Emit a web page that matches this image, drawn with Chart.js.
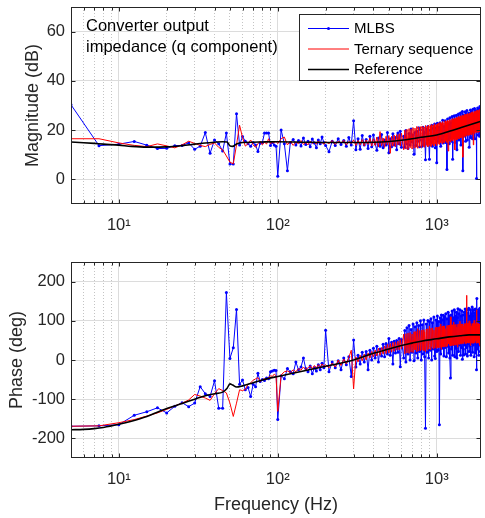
<!DOCTYPE html>
<html><head><meta charset="utf-8">
<script src="https://cdn.jsdelivr.net/npm/chart.js@4"></script>
<style>
html,body{margin:0;padding:0;background:#fff;}
#wrap{position:relative;width:485px;height:518px;overflow:hidden;}
canvas{position:absolute;left:0;}
</style></head><body>
<div id="wrap">
<canvas id="c1" width="485" height="250" style="top:0px;width:485px;height:250px"></canvas>
<canvas id="c2" width="485" height="268" style="top:250px;width:485px;height:268px"></canvas>
</div>
<script>
// ---------- data ----------
const freq = [5,7.5,10,12.5,15,17.5,20,22.5,25,27.5,30,32.5,35,37.5,40,42.5,45,47.5,50,52.5,55,57.5,60,62.5,65,67.5,70,72.5,75,77.5,80,82.5,85,87.5,90,92.5,95,97.5,100,
105,110,115,120,125,130,135,140,145,150,155,160,165,170,175,180,185,190,195,200,
210,220,230,240,250,260,270,280,290,300,310,320,330,340,350,360,370,380,390,400,410,420,430,440,450,460,470,480,490,500,510,520,530,540,550,560,570,580,590,600,
620,630,640,650,660,670,680,690,700,710,
720,730,740,750,760,770,780,790,800,810,
820,830,840,850,860,870,880,890,900,910,
920,930,940,950,960,970,980,990,1000,1010,
1020,1030,1040,1050,1060,1070,1080,1090,1100,1110,
1120,1130,1140,1150,1160,1170,1180,1190,1200,1210,
1220,1230,1240,1250,1260,1270,1280,1290,1300,1310,
1320,1330,1340,1350,1360,1370,1380,1390,1400,1410,
1420,1430,1440,1450,1460,1470,1480,1490,1500,1510,
1520,1530,1540,1550,1560,1570,1580,1590,1600,1610,
1620,1630,1640,1650,1660,1670,1680,1690,1700,1710,
1720,1730,1740,1750,1760,1770,1780,1790,1800,1810,
1820,1830,1840,1850,1860,1870,1880,1890,1900];

const magMLBS = [30.3,13.7,14.3,15.4,13.9,12.5,12.6,13.7,13.8,14.8,12.2,13.5,19.0,10.6,16.0,14.5,11.5,18.8,6.2,6.2,26.7,14.0,17.4,15.5,14.5,13.5,15.0,14.0,11.3,14.7,15.0,18.8,18.8,18.8,13.8,15.0,14.0,13.5,1.3,
20.1,14.5,3.5,15.0,16.2,14.0,15.8,13.6,16.8,14.2,15.5,13.2,16.4,14.8,12.8,16.0,14.5,17.2,15.0,13.8,
11.2,15.5,13.8,16.5,14.2,15.8,13.5,17.0,14.0,23.8,12.0,16.5,12.2,17.8,14.0,16.2,12.5,17.5,13.2,18.0,14.5,11.8,16.8,13.5,18.2,12.8,16.0,14.0,19.0,10.8,16.5,13.2,18.5,14.0,17.0,12.0,18.8,14.5,19.5,13.0,
17.5,13.0,19.8,14.5,12.5,18.6,14.0,20.5,15.2,18.0,
10.2,19.0,13.8,19.5,15.5,21.0,13.2,20.2,16.0,13.5,
21.2,14.2,19.0,8.0,20.5,14.8,21.5,16.0,8.2,20.0,
15.0,22.0,13.5,20.8,16.5,22.5,12.8,21.0,6.8,22.8,
15.5,21.2,17.0,23.0,13.5,22.2,16.0,24.0,14.8,21.5,
17.5,23.8,15.0,22.0,4.0,24.5,16.2,22.5,14.5,25.0,
17.0,23.0,15.5,25.5,8.2,24.0,17.5,25.8,15.0,23.5,
18.0,26.0,12.0,24.5,17.0,26.5,16.0,24.0,19.0,27.0,
14.0,25.0,18.0,27.6,3.5,26.0,17.5,25.5,19.5,27.5,
15.5,26.0,18.5,28.0,16.0,25.5,20.0,27.0,13.0,26.5,
19.0,28.2,17.0,25.0,20.5,27.5,16.5,28.5,19.0,26.0,
21.0,28.8,16.5,27.0,20.0,28.0,0.4,27.5,19.5,29.0,
18.0,27.0,21.0,28.5,17.5,29.6,20.5,27.5,22.0];

const magTern = [16.5,16.5,14.8,13.8,13.3,14.4,13.6,12.8,14.0,15.5,14.6,13.8,13.3,14.2,14.8,13.0,12.0,9.5,7.0,6.3,14.0,22.0,17.0,13.5,14.5,16.0,14.0,13.0,14.5,15.5,14.0,15.2,14.3,16.5,14.5,15.0,14.8,15.5,14.5,
16.5,17.2,14.0,15.5,13.8,15.2,14.5,15.8,14.2,15.0,14.0,15.5,14.6,15.2,14.3,15.6,14.8,15.0,14.2,15.3,
14.5,15.8,14.2,15.5,14.8,15.9,14.0,15.4,14.6,16.0,13.8,15.8,14.0,16.2,13.6,16.0,14.2,16.8,13.5,16.5,13.8,17.2,13.2,19.4,13.6,16.8,13.0,17.5,14.0,17.8,10.6,17.5,13.5,18.0,13.2,18.2,14.0,18.5,13.5,18.8,
12.0,20.0,12.3,20.3,12.0,20.6,12.8,20.5,12.3,21.0,
12.8,20.8,13.0,21.5,12.6,21.2,13.4,21.4,12.9,21.6,
13.5,21.3,13.0,21.9,13.8,21.5,13.2,22.0,13.8,21.8,
13.4,22.3,14.2,22.0,13.6,22.6,14.3,22.2,13.8,22.6,
14.5,22.9,14.1,23.2,14.9,22.8,14.5,23.5,15.1,23.0,
14.8,23.8,15.5,23.4,15.0,24.0,11.5,23.8,15.6,24.3,
15.2,24.0,16.0,24.6,15.6,24.2,16.3,24.9,12.0,24.5,
16.5,25.2,16.0,24.8,16.9,25.5,16.5,25.1,17.2,25.8,
16.8,25.4,17.5,26.0,9.0,25.7,17.6,26.3,17.2,25.9,
17.9,26.5,17.5,26.2,18.2,26.8,17.8,26.4,18.4,27.0,
18.0,26.7,18.6,27.2,18.2,26.9,18.9,27.5,14.0,27.1,
19.0,27.7,18.7,27.3,19.3,27.9,18.9,27.5,19.5,28.1,
19.1,27.8,19.7,28.3,19.3,28.0,19.9,28.5,19.6];

const phMLBS = [-169,-168,-165,-141,-132,-122,-135,-118,-109,-119,-110,-68,-86,-93,-53,-123,-123,172,4,31,129,-62,-51,-76,-70,-93,-62,-68,-34,-55,-50,-52,-46,-48,-30,-28,-26,-27,-152,
-40,-48,-22,-30,-35,-5,-25,-18,5,-22,-30,-15,-35,-20,-28,-12,-25,-8,-20,76,
-30,-5,-20,-2,-25,5,-12,8,-42,51,-18,12,-10,20,-5,22,-25,25,0,30,5,35,-5,28,10,40,8,42,15,55,12,45,-10,48,18,50,20,55,-17,52,
5,75,-5,82,15,88,0,78,20,92,
-2,85,18,95,5,88,22,100,0,90,
15,102,8,-174,92,20,101,5,98,25,
105,0,95,28,110,10,4,102,22,112,
25,98,-165,108,15,115,30,102,114,10,
110,32,118,8,105,35,122,18,112,5,
-46,115,28,125,12,108,40,128,8,112,
30,122,5,108,131,22,118,38,128,12,
112,32,125,2,115,28,13,122,38,130,
15,115,32,128,10,120,40,132,22,112,
35,128,12,118,42,135,20,112,38,128,
8,120,45,130,18,115,-25,157,28,122,
40,128,12,118,38,132,22,125,42];

const phTern = [-169,-168,-160,-152,-143,-135,-126,-117,-110,-102,-88,-92,-97,-103,-86,-73,-78,-84,-110,-144,-110,-76,-78,-75,-62,-58,-52,-48,-45,-55,-50,-48,-50,-45,-40,-42,-36,-40,-131,
-38,-30,-28,-32,-25,-30,-22,-26,-18,-24,-20,-15,-22,-14,-20,-12,-18,-10,-16,-12,
-20,-8,-18,0,-14,2,-10,6,25,-74,8,-5,12,-2,15,0,18,5,22,8,25,10,30,12,32,15,36,16,40,18,42,20,45,22,46,25,48,26,52,28,
66,16,67,18,69,17,70,20,66,19,
72,26,73,21,80,23,75,23,76,25,
77,24,72,21,79,26,80,28,86,27,
81,34,82,29,76,31,83,30,84,32,
84,31,85,33,92,27,86,34,87,33,
87,35,80,34,88,36,88,41,89,37,
110,36,89,38,90,37,97,39,90,38,
91,40,84,33,91,41,92,40,99,42,
92,41,92,43,92,42,87,47,93,42,
93,43,165,43,93,44,93,43,100,44,
93,37,93,44,87,43,93,44,93,43,
101,44,93,49,93,44,128,43,93,44,
93,43,88,44,92,37,92,44,92];

const refFreq = [5,6,7,8,10,12,15,20,25,30,35,40,45,48,50,52,55,60,70,80,100,150,200,300,400,500,600,700,800,1000,1200,1400,1600,1900];
const refMag = [15.2,14.9,14.6,14.3,13.9,13.4,13.1,13.2,13.7,14.3,14.8,15.1,15.3,15.2,13.6,13.4,14.4,15.0,15.1,15.2,15.3,15.1,15.0,15.0,15.1,15.4,15.9,16.5,17.1,18.0,19.5,20.9,22.1,23.6];
const refPhase = [-178,-177,-175,-172,-164,-156,-144,-124,-111,-100,-91,-86,-82,-72,-61,-64,-69,-66,-58,-51,-42,-27,-16,0,17,28,37,43,48,54,59,62,64,64];

const xMajorTicks = [10, 100, 1000];
const xTickLabels = ['10\u00B9', '10\u00B2', '10\u00B3'];
const xMinorTicks = [5,6,7,8,9,20,30,40,50,60,70,80,90,200,300,400,500,600,700,800,900];
const magTicks = [0, 20, 40, 60];
const phaseTicks = [-200, -100, 0, 100, 200];
const seriesNames = ['MLBS', 'Ternary sequence', 'Reference'];
const noteLines = ['Converter output', 'impedance (q component)'];

// ---------- styling ----------
const FONT = "'Liberation Sans', Arial, Helvetica, sans-serif";
Chart.defaults.font.family = FONT;
Chart.defaults.color = '#262626';
const AX = '#262626';
const GRID = '#dcdcdc';
const MINOR = '#c4c4c4';

function series(xs, ys) { return xs.map((x, i) => ({ x: x, y: ys[i] })); }

function makeDatasets(mlbs, tern, ref) {
  return [
    { label: seriesNames[0], data: series(freq, mlbs), borderColor: '#0000ff', backgroundColor: '#0000ff',
      borderWidth: 1, pointRadius: 1.5, pointBorderWidth: 0, pointBackgroundColor: '#0000ff', order: 2 },
    { label: seriesNames[1], data: series(freq, tern), borderColor: '#ff0000', backgroundColor: '#ff0000',
      borderWidth: 1, pointRadius: 0, order: 1 },
    { label: seriesNames[2], data: series(refFreq, ref), borderColor: '#000000', backgroundColor: '#000000',
      borderWidth: 1.6, pointRadius: 0, cubicInterpolationMode: 'monotone', order: 0 }
  ];
}

const boxPlugin = {
  id: 'matlabBox',
  afterDatasetsDraw(chart) {
    const { ctx, chartArea: a, scales } = chart;
    const L = Math.round(a.left) + 0.5, R = Math.round(a.right) - 0.5;
    const T = Math.round(a.top) + 0.5, B = Math.round(a.bottom) - 0.5;
    ctx.save();
    ctx.strokeStyle = AX; ctx.lineWidth = 1;
    ctx.beginPath();
    const xt = (s, len) => s.ticks.forEach(t => {
      const p = Math.round(s.getPixelForValue(t.value)) + 0.5;
      ctx.moveTo(p, B); ctx.lineTo(p, B - len); ctx.moveTo(p, T); ctx.lineTo(p, T + len);
    });
    xt(scales.x, 4); xt(scales.xm, 3);
    scales.y.ticks.forEach(t => {
      const p = Math.round(scales.y.getPixelForValue(t.value)) + 0.5;
      ctx.moveTo(L, p); ctx.lineTo(L + 4, p); ctx.moveTo(R, p); ctx.lineTo(R - 4, p);
    });
    ctx.stroke();
    ctx.strokeRect(L, T, R - L, B - T);
    ctx.restore();
  }
};

const notePlugin = {
  id: 'note',
  afterDatasetsDraw(chart) {
    const ctx = chart.ctx;
    ctx.save();
    ctx.font = '16.5px ' + FONT;
    ctx.fillStyle = '#000';
    ctx.textBaseline = 'middle';
    ctx.textAlign = 'left';
    ctx.fillText(noteLines[0], 86, 26.5);
    ctx.fillText(noteLines[1], 86, 47.5);
    ctx.restore();
  }
};

const legendPlugin = {
  id: 'legendBox',
  afterDraw(chart) {
    const ctx = chart.ctx;
    const bx = 299.5, by = 14.5, bw = 181, bh = 66;
    ctx.save();
    ctx.fillStyle = '#fff'; ctx.fillRect(bx, by, bw, bh);
    ctx.strokeStyle = AX; ctx.lineWidth = 1; ctx.strokeRect(bx, by, bw, bh);
    const rows = [28.5, 49, 69.5];
    ctx.font = '15px ' + FONT;
    ctx.textBaseline = 'middle'; ctx.textAlign = 'left';
    chart.data.datasets.forEach((ds, i) => {
      const yy = rows[i];
      ctx.strokeStyle = ds.borderColor; ctx.lineWidth = ds.borderWidth;
      ctx.beginPath(); ctx.moveTo(308, yy); ctx.lineTo(349, yy); ctx.stroke();
      if (ds.pointRadius > 0) {
        ctx.fillStyle = ds.pointBackgroundColor;
        ctx.beginPath(); ctx.arc(328.5, yy, ds.pointRadius, 0, Math.PI * 2); ctx.fill();
      }
      ctx.fillStyle = '#000';
      ctx.fillText(ds.label, 354, yy + 0.5);
    });
    ctx.restore();
  }
};

function xScales(withTitle) {
  return {
    x: {
      type: 'logarithmic', min: 5, max: 1900, position: 'bottom',
      afterBuildTicks: s => { s.ticks = xMajorTicks.map(v => ({ value: v })); },
      afterFit: s => { s.height = withTitle ? 60 : 46; s.paddingLeft = 0; s.paddingRight = 0; },
      grid: { color: GRID, lineWidth: 1, drawTicks: false },
      border: { display: false },
      ticks: { autoSkip: false, maxRotation: 0, padding: 12, font: { size: 16.5 }, color: AX,
        callback: v => { const k = xMajorTicks.indexOf(v); return k >= 0 ? xTickLabels[k] : ''; } },
      title: withTitle ? { display: true, text: 'Frequency (Hz)', font: { size: 18 }, color: AX, padding: { top: 0, bottom: 2 } } : { display: false }
    },
    xm: {
      type: 'logarithmic', min: 5, max: 1900, position: 'bottom',
      afterBuildTicks: s => { s.ticks = xMinorTicks.map(v => ({ value: v })); },
      afterFit: s => { s.height = 0; s.paddingLeft = 0; s.paddingRight = 0; },
      grid: { color: MINOR, lineWidth: 1, drawTicks: false },
      border: { display: false, dash: [1, 2] },
      ticks: { display: false }
    }
  };
}

function yScale(min, max, tickVals, titleText, titlePad) {
  return {
    type: 'linear', min: min, max: max, position: 'left',
    afterBuildTicks: s => { s.ticks = tickVals.map(v => ({ value: v })); },
    afterFit: s => { s.width = 71; s.paddingTop = 0; s.paddingBottom = 0; },
    grid: { color: GRID, lineWidth: 1, drawTicks: false },
    border: { display: false },
    ticks: { padding: 6, font: { size: 16.5 }, color: AX },
    title: { display: true, text: titleText, font: { size: 18 }, color: AX, padding: { top: titlePad, bottom: 0 } }
  };
}

function baseOptions(padTop, withTitle, yCfg) {
  const sc = xScales(withTitle);
  sc.y = yCfg;
  return {
    responsive: false, animation: false, events: [],
    layout: { padding: { top: padTop, right: 1, left: 0, bottom: 0 } },
    plugins: { legend: { display: false }, tooltip: { enabled: false } },
    elements: { line: { tension: 0 } },
    scales: sc
  };
}

new Chart(document.getElementById('c1'), {
  type: 'line',
  data: { datasets: makeDatasets(magMLBS, magTern, refMag) },
  options: baseOptions(7, false, yScale(-10, 70, magTicks, 'Magnitude (dB)', 22)),
  plugins: [boxPlugin, notePlugin, legendPlugin]
});

new Chart(document.getElementById('c2'), {
  type: 'line',
  data: { datasets: makeDatasets(phMLBS, phTern, refPhase) },
  options: baseOptions(12, true, yScale(-250, 250, phaseTicks, 'Phase (deg)', 6)),
  plugins: [boxPlugin]
});
</script>
</body></html>
